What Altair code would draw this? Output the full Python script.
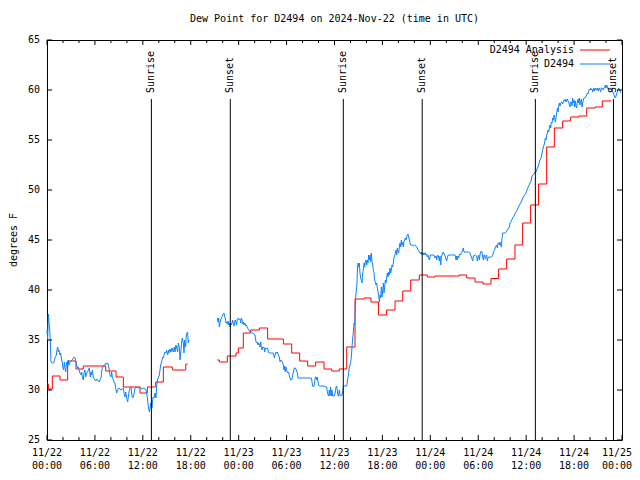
import altair as alt
import pandas as pd

# ---------------- data (hours since 2024-11-22 00:00 UTC, degrees F) ----------------
analysis1_hours = [0.0, 0.17, 0.67, 1.63, 2.59, 3.63, 4.55, 7.35, 8.64, 9.56, 11.65,
                   12.56, 13.61, 14.57, 15.69, 17.37, 17.6]
analysis1_values = [30.6, 30.1, 31.4, 31.0, 32.9, 32.1, 32.4, 31.9, 31.3, 30.3, 29.7,
                    30.3, 30.8, 32.3, 32.0, 32.6, 32.6]

analysis2_hours = [21.33, 21.58, 22.58, 23.67, 23.96, 24.58, 25.5, 26.59, 27.63, 29.6,
                   30.64, 31.64, 32.64, 33.64, 34.69, 35.65, 36.6, 37.53, 38.57, 39.7,
                   40.57, 41.5, 42.53, 43.58, 44.54, 45.54, 46.62, 47.62, 48.58, 51.63,
                   52.55, 53.6, 54.6, 55.6, 56.55, 57.56, 58.6, 59.56, 60.56, 61.55,
                   62.57, 63.53, 64.57, 65.57, 66.61, 67.58, 68.62, 69.53, 70.7]
analysis2_values = [33.0, 32.8, 33.4, 33.7, 34.2, 35.7, 36.0, 36.2, 35.1, 34.6,
                    33.7, 32.9, 32.4, 32.8, 32.1, 31.9, 32.1, 34.3, 39.1, 39.2,
                    38.8, 37.5, 38.0, 38.9, 39.9, 41.0, 41.5, 41.3, 41.4, 41.5,
                    41.2, 40.8, 40.6, 41.15, 42.1, 43.1, 44.5, 46.7, 48.5, 50.6,
                    54.3, 56.2, 56.9, 57.3, 57.4, 58.2, 58.3, 58.9, 58.9]

obs1_hours = [0.00, 0.08, 0.17, 0.25, 0.33, 0.42, 0.50, 0.67, 0.83, 1.00, 1.17, 1.25,
              1.34, 1.42, 1.50, 1.63, 1.71, 1.79, 1.92, 2.00, 2.09, 2.17, 2.25, 2.34,
              2.42, 2.50, 2.59, 2.67, 2.75, 2.88, 3.01, 3.17, 3.30, 3.42, 3.51, 3.63,
              3.71, 3.84, 3.92, 4.01, 4.13, 4.26, 4.34, 4.42, 4.55, 4.63, 4.76, 4.84,
              4.97, 5.09, 5.18, 5.30, 5.43, 5.51, 5.59, 5.68, 5.80, 5.93, 6.09, 6.22,
              6.34, 6.51, 6.64, 6.76, 6.85, 6.93, 7.05, 7.18, 7.26, 7.39, 7.47, 7.60,
              7.68, 7.76, 7.89, 8.01, 8.10, 8.18, 8.31, 8.43, 8.51, 8.60, 8.72, 8.85,
              9.02, 9.14, 9.27, 9.43, 9.56, 9.68, 9.77, 9.85, 9.98, 10.10, 10.18, 10.27,
              10.39, 10.52, 10.60, 10.69, 10.81, 10.94, 11.02, 11.23, 11.44, 11.65, 11.85,
              12.15, 12.40, 12.57, 12.69, 12.82, 12.90, 13.02, 13.15, 13.23, 13.31, 13.40,
              13.52, 13.65, 13.73, 13.81, 13.94, 14.06, 14.15, 14.23, 14.36, 14.48, 14.57,
              14.65, 14.77, 14.90, 14.98, 15.11, 15.23, 15.32, 15.40, 15.53, 15.65, 15.73,
              15.82, 15.94, 16.03, 16.15, 16.24, 16.36, 16.44, 16.57, 16.65, 16.78, 16.86,
              16.94, 17.07, 17.15, 17.24, 17.36, 17.45, 17.53, 17.61, 17.69, 17.78]
obs1_values = [36.0, 35.0, 37.6, 36.7, 36.2, 34.7, 32.8, 32.7, 32.7, 33.2, 33.5, 34.0,
               34.3, 33.8, 34.0, 33.5, 33.7, 33.2, 32.7, 32.2, 32.0, 32.8, 32.3, 31.8,
               32.5, 32.8, 32.3, 33.0, 32.5, 32.8, 32.9, 33.0, 33.2, 33.3, 33.2, 32.8,
               32.5, 32.2, 32.3, 32.0, 31.7, 31.5, 31.8, 31.3, 31.0, 31.7, 32.0, 31.3,
               31.7, 31.8, 32.0, 32.2, 31.3, 31.8, 31.5, 32.0, 31.3, 31.1, 30.9, 31.1,
               31.0, 30.8, 31.0, 31.2, 31.8, 32.3, 32.3, 32.5, 32.5, 32.7, 32.6, 32.7,
               32.5, 32.2, 31.5, 31.3, 31.8, 31.3, 31.0, 30.7, 30.7, 30.2, 29.7, 30.0,
               30.2, 30.1, 30.0, 30.1, 30.2, 29.5, 29.3, 29.8, 29.2, 28.8, 29.3, 29.8,
               30.2, 30.3, 29.7, 29.2, 29.3, 29.8, 30.2, 30.3, 30.2, 30.3, 30.1,
               30.2, 30.0, 29.2, 28.3, 27.8, 28.2, 28.7, 28.2, 29.0, 29.3, 29.2,
               29.7, 29.2, 30.3, 31.0, 31.2, 31.5, 32.0, 32.5, 32.8, 33.3, 33.2,
               33.5, 33.8, 33.7, 34.0, 33.5, 34.0, 33.7, 34.1, 33.8, 34.2, 34.0,
               33.8, 34.3, 33.8, 34.5, 34.2, 33.8, 34.7, 34.3, 33.0, 34.0, 34.8,
               35.2, 34.7, 33.7, 35.0, 34.3, 35.5, 35.7, 35.8, 34.7, 35.0]

obs2_hours = [21.33, 21.41, 21.50, 21.58, 21.66, 21.75, 21.83, 21.91, 22.00, 22.08, 22.16,
              22.25, 22.33, 22.42, 22.50, 22.58, 22.67, 22.75, 22.83, 22.92, 23.00, 23.08,
              23.17, 23.25, 23.33, 23.42, 23.50, 23.58, 23.67, 23.75, 23.83, 23.96, 24.08,
              24.17, 24.25, 24.33, 24.42, 24.50, 24.59, 24.67, 24.75, 24.84, 24.92, 25.00,
              25.09, 25.21, 25.34, 25.42, 25.50, 25.63, 25.75, 25.92, 26.05, 26.17, 26.26,
              26.34, 26.42, 26.51, 26.59, 26.67, 26.76, 26.84, 26.92, 27.01, 27.09, 27.17,
              27.26, 27.34, 27.42, 27.51, 27.63, 27.72, 27.80, 27.92, 28.13, 28.34, 28.47,
              28.55, 28.68, 28.76, 28.84, 28.97, 29.09, 29.18, 29.30, 29.39, 29.51, 29.59,
              29.68, 29.76, 29.84, 29.93, 30.01, 30.10, 30.18, 30.26, 30.35, 30.43, 30.51,
              30.60, 30.68, 30.76, 30.85, 30.97, 31.10, 31.22, 31.35, 31.43, 31.56, 32.10,
              32.52, 33.10, 33.19, 33.27, 33.35, 33.44, 33.52, 33.60, 33.69, 33.77, 33.85,
              33.94, 34.02, 34.10, 34.60, 34.94, 35.02, 35.10, 35.19, 35.27, 35.35, 35.44,
              35.52, 35.60, 35.69, 35.77, 35.94, 36.02, 36.10, 36.19, 36.27, 36.35, 36.44,
              36.52, 36.60, 36.69, 36.77, 36.94, 37.02, 37.11, 37.19, 37.53, 37.61, 37.69,
              37.78, 37.86, 37.94, 38.03, 38.11, 38.19, 38.28, 38.36, 38.45, 38.53, 38.57,
              38.65, 38.74, 38.82, 38.86, 38.94, 39.03, 39.11, 39.19, 39.28, 39.36, 39.44,
              39.53, 39.61, 39.70, 39.78, 39.86, 39.95, 40.03, 40.11, 40.20, 40.28, 40.36,
              40.45, 40.53, 40.61, 40.70, 40.78, 40.86, 40.95, 41.03, 41.11, 41.20, 41.28,
              41.36, 41.45, 41.53, 41.62, 41.70, 41.78, 41.87, 41.95, 42.03, 42.12, 42.20,
              42.28, 42.37, 42.45, 42.53, 42.62, 42.70, 42.78, 42.87, 42.95, 43.03, 43.12,
              43.20, 43.28, 43.37, 43.45, 43.54, 43.62, 43.70, 43.79, 43.87, 43.95, 44.04,
              44.12, 44.20, 44.29, 44.37, 44.45, 44.54, 44.62, 44.70, 44.79, 44.87, 44.95,
              45.04, 45.12, 45.20, 45.29, 45.37, 45.46, 45.54, 45.71, 45.87, 46.04, 46.21,
              46.29, 46.37, 46.46, 46.54, 46.62, 46.71, 46.79, 46.87, 46.96, 47.04, 47.13,
              47.21, 47.29, 47.38, 47.46, 47.54, 47.63, 47.71, 47.79, 47.88, 47.96, 48.04,
              48.21, 48.38, 48.46, 48.59, 48.71, 48.79, 48.88, 49.00, 49.13, 49.21, 49.30,
              49.38, 49.55, 49.63, 49.71, 49.80, 49.88, 49.96, 50.05, 50.13, 50.26, 50.67,
              51.09, 51.22, 51.30, 51.38, 51.47, 51.55, 51.63, 51.72, 51.80, 51.88, 51.97,
              52.05, 52.13, 52.22, 52.38, 52.76, 52.97, 53.14, 53.22, 53.30, 53.39, 53.64,
              53.80, 53.89, 53.97, 54.05, 54.14, 54.22, 54.30, 54.39, 54.47, 54.55, 54.64,
              54.72, 54.81, 54.89, 54.97, 55.06, 55.14, 55.22, 55.31, 55.64, 55.81, 55.89,
              55.97, 56.06, 56.14, 56.31, 56.39, 56.47, 56.56, 56.64, 56.73, 56.81, 56.89,
              56.98, 57.06, 57.23, 57.39, 57.56, 57.73, 57.89, 57.98, 58.14, 58.31, 58.48,
              58.65, 58.81, 58.98, 59.15, 59.31, 59.48, 59.65, 59.81, 59.98, 60.15, 60.31,
              60.48, 60.65, 60.69, 60.82, 60.98, 61.11, 61.23, 61.40, 61.53, 61.65, 61.73,
              61.86, 61.98, 62.07, 62.15, 62.24, 62.32, 62.40, 62.49, 62.57, 62.65, 62.74,
              62.82, 62.90, 62.99, 63.07, 63.15, 63.24, 63.32, 63.40, 63.49, 63.57, 63.65,
              63.74, 63.82, 63.91, 63.99, 64.07, 64.16, 64.24, 64.32, 64.45, 64.57, 64.66,
              64.74, 64.82, 64.91, 64.99, 65.07, 65.16, 65.24, 65.32, 65.41, 65.49, 65.57,
              65.66, 65.74, 65.82, 65.91, 65.99, 66.08, 66.16, 66.24, 66.33, 66.41, 66.49,
              66.58, 66.66, 66.74, 66.83, 66.91, 66.99, 67.08, 67.16, 67.24, 67.33, 67.41,
              67.49, 67.58, 67.66, 67.74, 67.83, 67.91, 67.99, 68.08, 68.16, 68.25, 68.33,
              68.41, 68.50, 68.58, 68.66, 68.75, 68.83, 68.91, 69.00, 69.08, 69.16, 69.25,
              69.33, 69.41, 69.50, 69.58, 69.66, 69.75, 69.83, 69.92, 70.00, 70.08, 70.17,
              70.25, 70.33, 70.42, 70.50, 70.58, 70.67, 70.75, 70.83, 70.92, 71.00, 71.08,
              71.17, 71.25, 71.33, 71.42, 71.50, 71.58, 71.75, 71.90]
obs2_values = [37.2, 36.8, 37.2, 36.3, 36.7, 37.0, 37.2, 37.3, 37.5, 37.6, 37.7,
               37.3, 37.2, 36.7, 36.8, 36.6, 36.9, 36.5, 36.7, 36.3, 36.7, 36.5,
               36.7, 37.0, 36.6, 36.4, 36.8, 37.0, 36.7, 36.5, 37.1, 37.2, 37.0,
               37.1, 36.7, 37.2, 37.0, 36.6, 36.8, 36.5, 36.7, 36.6, 36.4, 36.5,
               36.2, 36.1, 35.9, 35.8, 35.7, 35.7, 35.7, 35.6, 35.5, 34.8, 34.7,
               34.8, 34.5, 34.7, 34.5, 34.3, 34.8, 34.3, 34.0, 34.3, 34.2, 34.3,
               33.8, 34.2, 34.1, 34.2, 34.2, 33.8, 33.7, 33.7, 33.7, 33.7, 33.2,
               33.5, 33.8, 33.7, 33.8, 33.5, 33.3, 32.8, 33.0, 32.9, 32.8, 32.5,
               32.0, 32.4, 31.8, 32.3, 32.0, 31.8, 31.7, 31.8, 31.4, 31.2, 31.0,
               31.0, 31.1, 31.5, 31.8, 32.2, 32.2, 32.0, 31.7, 31.2, 31.2, 31.2,
               31.2, 31.2, 30.8, 30.4, 30.3, 30.4, 30.8, 31.3, 31.3, 31.0, 31.3,
               30.8, 30.5, 30.4, 30.4, 30.3, 30.3, 29.8, 29.5, 29.4, 30.0, 29.4,
               30.3, 29.4, 30.0, 29.4, 29.4, 29.5, 29.8, 30.3, 30.4, 30.0, 29.4,
               29.4, 30.0, 29.5, 29.4, 29.5, 29.8, 30.3, 30.4, 30.4, 30.8, 31.3,
               31.7, 32.3, 32.5, 32.8, 33.3, 34.3, 35.2, 35.8, 36.7, 36.5, 37.3,
               39.3, 40.0, 40.7, 41.8, 42.7, 42.3, 42.7, 41.7, 41.2, 41.0, 40.7,
               41.7, 42.0, 42.7, 42.3, 42.8, 43.0, 42.5, 43.0, 42.7, 43.5, 43.0,
               43.5, 42.8, 43.7, 42.8, 42.5, 42.0, 41.7, 41.0, 40.8, 40.5, 40.7,
               40.2, 39.8, 39.5, 38.8, 39.5, 39.2, 40.3, 39.3, 39.8, 40.7, 39.7,
               40.3, 41.0, 40.7, 41.2, 41.7, 41.3, 41.8, 41.5, 42.2, 41.7, 42.0,
               42.5, 42.3, 42.7, 43.3, 43.4, 43.7, 44.0, 43.5, 44.2, 43.8, 43.7,
               44.3, 44.7, 44.3, 45.0, 44.5, 44.8, 44.3, 44.8, 45.0, 45.2, 45.0,
               45.3, 45.5, 45.6, 45.3, 45.0, 44.7, 44.5, 44.5, 44.4, 44.5, 44.4,
               44.3, 44.2, 44.0, 43.9, 43.8, 43.7, 43.6, 43.8, 43.5, 43.7, 43.7,
               43.5, 43.7, 43.7, 43.5, 43.6, 43.3, 43.5, 43.2, 43.0, 43.3, 43.5,
               43.5, 43.5, 43.5, 43.2, 43.4, 43.0, 43.5, 43.4, 42.9, 43.4, 42.5,
               43.3, 43.7, 43.8, 43.6, 43.5, 43.3, 43.1, 42.9, 43.3, 43.5, 43.5,
               43.5, 43.0, 43.4, 43.0, 43.4, 43.2, 43.5, 43.6, 43.5, 43.7, 43.8,
               44.0, 44.2, 43.8, 43.8, 43.8, 43.7, 43.3, 43.1, 42.9, 43.4, 43.5,
               43.4, 42.9, 43.3, 43.5, 43.0, 43.5, 43.8, 43.9, 43.8, 43.3, 43.0,
               43.5, 43.5, 43.1, 43.4, 43.5, 42.9, 43.2, 43.3, 43.3, 43.4, 43.8,
               43.9, 44.0, 44.3, 44.5, 44.2, 44.7, 44.7, 44.5, 44.8, 44.5, 44.3,
               45.2, 45.7, 45.7, 45.7, 45.9, 46.1, 46.3, 46.7, 46.9, 47.2, 47.4,
               47.7, 47.9, 48.2, 48.5, 48.7, 49.0, 49.3, 49.5, 49.7, 50.1, 50.4,
               50.7, 51.0, 51.3, 51.5, 51.6, 51.8, 51.8, 52.2, 52.4, 52.8, 53.0,
               53.2, 53.7, 54.0, 54.3, 54.5, 54.8, 55.2, 55.0, 55.5, 55.7, 56.0,
               55.8, 56.2, 56.5, 56.2, 56.8, 56.7, 57.2, 57.0, 57.5, 57.3, 56.8,
               57.2, 57.7, 58.2, 57.8, 58.4, 58.7, 58.4, 58.7, 58.8, 58.6, 58.8,
               59.0, 58.9, 59.1, 58.8, 59.0, 59.1, 58.9, 58.8, 58.5, 58.3, 58.8,
               58.8, 58.4, 59.2, 58.7, 59.0, 58.3, 58.9, 58.4, 58.2, 58.8, 59.1,
               58.7, 59.2, 58.5, 58.8, 59.1, 58.3, 58.7, 59.0, 59.2, 59.2, 59.3,
               59.4, 59.5, 59.7, 59.6, 59.9, 60.1, 60.0, 60.2, 60.0, 60.1, 59.8,
               60.0, 60.2, 59.9, 60.2, 60.1, 60.0, 60.2, 59.9, 60.1, 60.2, 60.0,
               59.8, 60.2, 60.2, 60.1, 60.0, 60.2, 60.3, 60.5, 60.2, 60.5, 60.3,
               60.1, 60.2, 60.2, 60.0, 60.2, 60.2, 60.1, 59.8, 59.7, 59.5, 59.3,
               59.2, 59.4, 59.6, 59.8, 60.0, 60.2, 59.9, 59.7]

sun_hours = [13.07, 22.95, 37.10, 46.98, 61.15, 70.93]
sun_labels = ["Sunrise", "Sunset", "Sunrise", "Sunset", "Sunrise", "Sunset"]

xtick_hours = [0, 6, 12, 18, 24, 30, 36, 42, 48, 54, 60, 66, 72]
xtick_dates = ["11/22", "11/22", "11/22", "11/22", "11/23", "11/23", "11/23",
               "11/23", "11/24", "11/24", "11/24", "11/24", "11/25"]
xtick_times = ["00:00", "06:00", "12:00", "18:00", "00:00", "06:00", "12:00",
               "18:00", "00:00", "06:00", "12:00", "18:00", "00:00"]
xminor_hours = [2, 4, 8, 10, 14, 16, 20, 22, 26, 28, 32, 34, 38, 40, 44, 46,
                50, 52, 56, 58, 62, 64, 68, 70]
ytick_values = [25, 30, 35, 40, 45, 50, 55, 60, 65]

title_text = "Dew Point for D2494 on 2024-Nov-22 (time in UTC)"
ytitle_text = "degrees F"
legend_labels = ["D2494 Analysis", "D2494"]
legend_colors = ["#ff0000", "#0f83ff"]
legend_rows = [0, 1]

# ---------------- tables ----------------
red_df = pd.concat([
    pd.DataFrame({"h": analysis1_hours, "v": analysis1_values, "seg": 1}),
    pd.DataFrame({"h": analysis2_hours, "v": analysis2_values, "seg": 2}),
])
blue_df = pd.concat([
    pd.DataFrame({"h": obs1_hours, "v": obs1_values, "seg": 1}),
    pd.DataFrame({"h": obs2_hours, "v": obs2_values, "seg": 2}),
])
sun_df = pd.DataFrame({"h": sun_hours, "label": sun_labels})
xt_df = pd.DataFrame({"h": xtick_hours, "d": xtick_dates, "t": xtick_times})
xt_main = xt_df.iloc[:-1]
xt_last = xt_df.iloc[-1:]
xm_df = pd.DataFrame({"h": xminor_hours})
yt_df = pd.DataFrame({"v": ytick_values, "lab": [str(v) for v in ytick_values]})
leg_df = pd.DataFrame({"label": legend_labels, "color": legend_colors, "row": legend_rows})

FONT = "DejaVu Sans Mono"
FS = 10
W, H = 575, 400
xs = alt.Scale(domain=[0, 72], nice=False, zero=False)
ys = alt.Scale(domain=[25, 65], nice=False, zero=False)
legs = alt.Scale(domain=[0, 1], range=[10, 24], nice=False, zero=False)


def X(f="h"):
    return alt.X(f"{f}:Q", scale=xs, axis=None)


def Y(f="v"):
    return alt.Y(f"{f}:Q", scale=ys, axis=None)


red = alt.Chart(red_df).mark_line(color="#ff0000", strokeWidth=1, interpolate="step-after").encode(
    x=X(), y=Y(), detail="seg:N")
blue = alt.Chart(blue_df).mark_line(color="#0f83ff", strokeWidth=1).encode(
    x=X(), y=Y(), detail="seg:N")

sun_rules = alt.Chart(sun_df).mark_rule(color="black", strokeWidth=1).encode(
    x=X(), y=alt.value(59), y2=alt.value(H))
sun_text = alt.Chart(sun_df).mark_text(angle=270, align="left", baseline="middle",
                                       font=FONT, fontSize=FS, color="black").encode(
    x=X(), y=alt.value(53), text="label:N")

xt_bot = alt.Chart(xt_df).mark_rule(color="black").encode(x=X(), y=alt.value(H), y2=alt.value(H - 5))
xt_top = alt.Chart(xt_df).mark_rule(color="black").encode(x=X(), y=alt.value(0), y2=alt.value(5))
xm_bot = alt.Chart(xm_df).mark_rule(color="black").encode(x=X(), y=alt.value(H), y2=alt.value(H - 3))
xm_top = alt.Chart(xm_df).mark_rule(color="black").encode(x=X(), y=alt.value(0), y2=alt.value(3))
yt_left = alt.Chart(yt_df).mark_rule(color="black").encode(y=Y(), x=alt.value(0), x2=alt.value(5))
yt_right = alt.Chart(yt_df).mark_rule(color="black").encode(y=Y(), x=alt.value(W), x2=alt.value(W - 5))


def xlabels(df, dx=0):
    d = alt.Chart(df).mark_text(font=FONT, fontSize=FS, baseline="middle", align="center", dx=dx).encode(
        x=X(), y=alt.value(H + 13), text="d:N")
    t = alt.Chart(df).mark_text(font=FONT, fontSize=FS, baseline="middle", align="center", dx=dx).encode(
        x=X(), y=alt.value(H + 26), text="t:N")
    return [d, t]


xl_main = xlabels(xt_main)
xl_last = xlabels(xt_last, dx=-5)

ylab = alt.Chart(yt_df).mark_text(font=FONT, fontSize=FS, baseline="middle", align="right").encode(
    y=Y(), x=alt.value(-7), text="lab:N")

title = alt.Chart(pd.DataFrame({"t": [title_text]})).mark_text(
    font=FONT, fontSize=FS, baseline="middle", align="center").encode(
    x=alt.value(W / 2), y=alt.value(-21), text="t:N")
ytitle = alt.Chart(pd.DataFrame({"t": [ytitle_text]})).mark_text(
    font=FONT, fontSize=FS, baseline="middle", align="center", angle=270).encode(
    x=alt.value(-33), y=alt.value(H / 2), text="t:N")

leg_text = alt.Chart(leg_df).mark_text(font=FONT, fontSize=FS, baseline="middle", align="right").encode(
    x=alt.value(527), y=alt.Y("row:Q", scale=legs, axis=None), text="label:N")
leg_line = alt.Chart(leg_df).mark_rule(strokeWidth=1).encode(
    x=alt.value(533), x2=alt.value(563),
    y=alt.Y("row:Q", scale=legs, axis=None),
    color=alt.Color("color:N", scale=None))

chart = alt.layer(
    red, blue, sun_rules, xt_bot, xt_top, xm_bot, xm_top, yt_left, yt_right,
    sun_text, *xl_main, *xl_last, ylab, title, ytitle, leg_text, leg_line,
).resolve_scale(y="independent").properties(
    width=W, height=H, autosize="none",
    padding={"left": 39, "top": 32, "right": 10, "bottom": 32},
    background="white",
).configure_view(stroke="black", strokeWidth=1)

chart.save("out.html", embed_options={"renderer": "svg", "actions": False})
